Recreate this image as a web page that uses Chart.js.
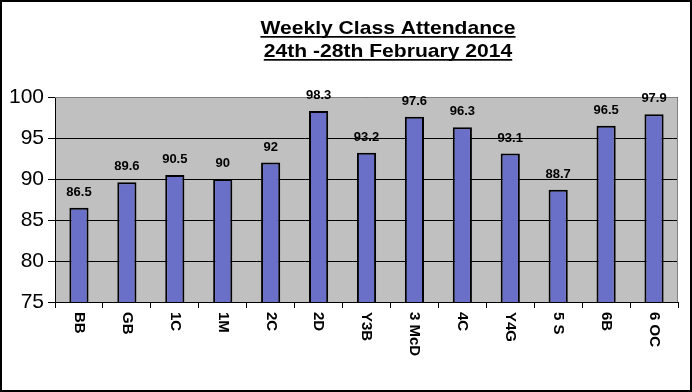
<!DOCTYPE html>
<html>
<head>
<meta charset="utf-8">
<script src="https://cdn.jsdelivr.net/npm/chart.js@4.4.1/dist/chart.umd.min.js"></script>
<style>
  html, body { margin: 0; padding: 0; background: #fff; overflow: hidden; }
  #chart { display: block; }
</style>
</head>
<body>
<canvas id="chart" width="692" height="392"></canvas>
<script>
const classes = ['BB', 'GB', '1C', '1M', '2C', '2D', 'Y3B', '3 McD', '4C', 'Y4G', '5 S', '6B', '6 OC'];
const attendance = [86.5, 89.6, 90.5, 90, 92, 98.3, 93.2, 97.6, 96.3, 93.1, 88.7, 96.5, 97.9];
const yTicks = [75, 80, 85, 90, 95, 100];
const titleLines = ['Weekly Class Attendance', '24th -28th February 2014'];

const FONT = '"Liberation Sans", Arial, sans-serif';

// grey plot background + border
const plotBg = {
    id: 'plotBg',
    beforeDraw(chart) {
        const { ctx, chartArea: a } = chart;
        ctx.save();
        ctx.fillStyle = '#c0c0c0';
        ctx.fillRect(a.left, a.top, a.right - a.left, a.bottom - a.top);
        ctx.restore();
    },
    afterDatasetsDraw(chart) {
        const { ctx, chartArea: a } = chart;
        ctx.save();
        ctx.strokeStyle = '#808080';
        ctx.lineWidth = 1;
        ctx.beginPath();
        ctx.moveTo(a.left, a.top + 0.5);
        ctx.lineTo(a.right - 0.5, a.top + 0.5);
        ctx.lineTo(a.right - 0.5, a.bottom);
        ctx.stroke();
        ctx.restore();
    }
};

// title, value labels, rotated category labels, outer frame
const extras = {
    id: 'extras',
    afterDraw(chart) {
        const { ctx } = chart;
        const xs = chart.scales.x;
        const ys = chart.scales.y;
        ctx.save();

        // title (stretched a bit wider like the original)
        ctx.fillStyle = '#000';
        ctx.font = 'bold 19px ' + FONT;
        ctx.textAlign = 'center';
        ctx.textBaseline = 'alphabetic';
        titleLines.forEach((t, i) => {
            const cy = 34 + i * 23;
            ctx.save();
            ctx.translate(388, cy);
            ctx.scale(1.11, 1);
            ctx.fillText(t, 0, 0);
            const w = ctx.measureText(t).width;
            ctx.fillRect(-w / 2, 2, w, 1.7);
            ctx.restore();
        });

        // value labels
        ctx.font = 'bold 13px ' + FONT;
        ctx.textAlign = 'center';
        ctx.textBaseline = 'bottom';
        const meta = chart.getDatasetMeta(0);
        meta.data.forEach((bar, i) => {
            ctx.fillText(String(attendance[i]), bar.x, bar.y - 9);
        });

        // category labels, rotated clockwise
        ctx.font = 'bold 15px ' + FONT;
        ctx.textAlign = 'left';
        ctx.textBaseline = 'middle';
        classes.forEach((c, i) => {
            const x = xs.getPixelForValue(i);
            ctx.save();
            ctx.translate(x, ys.bottom + 10);
            ctx.rotate(Math.PI / 2);
            ctx.fillText(c, 0, 0);
            ctx.restore();
        });

        // outer frame
        ctx.strokeStyle = '#000';
        ctx.lineWidth = 2;
        ctx.strokeRect(1, 1, chart.width - 2, chart.height - 2);
        ctx.restore();
    }
};

new Chart(document.getElementById('chart'), {
    type: 'bar',
    data: {
        labels: classes,
        datasets: [{
            data: attendance,
            backgroundColor: '#6a6fc8',
            borderColor: '#000',
            borderWidth: 2,
            borderSkipped: false,
            categoryPercentage: 1,
            barPercentage: 0.4
        }]
    },
    options: {
        responsive: false,
        animation: false,
        devicePixelRatio: 1,
        layout: { padding: { top: 97, right: 14, left: 0, bottom: 0 } },
        plugins: {
            legend: { display: false },
            tooltip: { enabled: false },
            title: { display: false }
        },
        scales: {
            x: {
                ticks: { display: false },
                grid: {
                    offset: true,
                    drawOnChartArea: false,
                    drawTicks: true,
                    tickLength: 6,
                    color: '#000'
                },
                border: { color: '#000', width: 1 },
                afterFit(scale) { scale.height = 90; }
            },
            y: {
                min: 75,
                max: 100,
                afterBuildTicks(scale) { scale.ticks = yTicks.map(v => ({ value: v })); },
                ticks: {
                    color: '#000',
                    font: { family: FONT, size: 21 },
                    padding: 4
                },
                grid: { color: '#000', tickLength: 7 },
                border: { color: '#000', width: 1 },
                afterFit(scale) { scale.width = 55; }
            }
        }
    },
    plugins: [plotBg, extras]
});
</script>
</body>
</html>
